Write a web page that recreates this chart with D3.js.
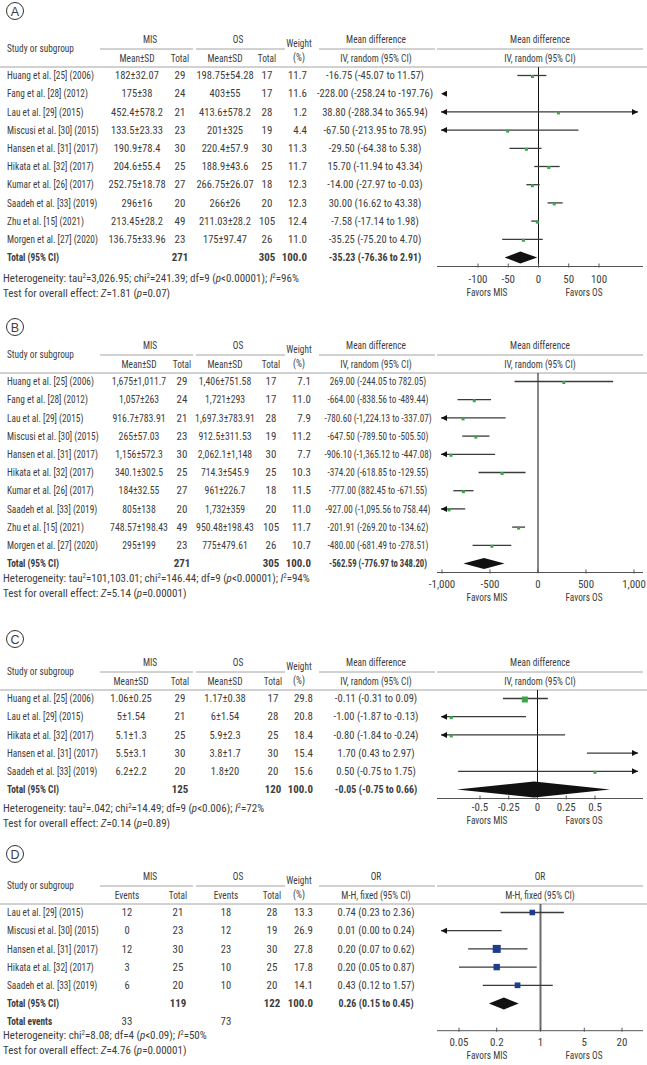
<!DOCTYPE html>
<html><head><meta charset="utf-8">
<script src="https://cdn.jsdelivr.net/npm/d3@7"></script>
<style>
body{margin:0;background:#fff;}
svg text{font-family:"Liberation Sans Narrow","Arial Narrow","Roboto Condensed",Roboto,"Liberation Sans",sans-serif;fill:#3d3d3d;}
</style></head><body>
<svg id="c" width="647" height="1065"></svg>
<script>
// ---------- Panel A : mean difference ----------
const studiesA = ["Huang et al. [25] (2006)","Fang et al. [28] (2012)","Lau et al. [29] (2015)","Miscusi et al. [30] (2015)","Hansen et al. [31] (2017)","Hikata et al. [32] (2017)","Kumar et al. [26] (2017)","Saadeh et al. [33] (2019)","Zhu et al. [15] (2021)","Morgen et al. [27] (2020)"];
const misSdA = ["182±32.07","175±38","452.4±578.2","133.5±23.33","190.9±78.4","204.6±55.4","252.75±18.78","296±16","213.45±28.2","136.75±33.96"];
const misNA = [29,24,21,23,30,25,27,20,49,23];
const osSdA = ["198.75±54.28","403±55","413.6±578.2","201±325","220.4±57.9","188.9±43.6","266.75±26.07","266±26","211.03±28.2","175±97.47"];
const osNA = [17,17,28,19,30,25,18,20,105,26];
const weightA = ["11.7","11.6","1.2","4.4","11.3","11.7","12.3","12.3","12.4","11.0"];
const effTextA = ["-16.75 (-45.07 to 11.57)","-228.00 (-258.24 to -197.76)","38.80 (-288.34 to 365.94)","-67.50 (-213.95 to 78.95)","-29.50 (-64.38 to 5.38)","15.70 (-11.94 to 43.34)","-14.00 (-27.97 to -0.03)","30.00 (16.62 to 43.38)","-7.58 (-17.14 to 1.98)","-35.25 (-75.20 to 4.70)"];
const totalsA = ["271","305","100.0","-35.23 (-76.36 to 2.91)"];
// plotted marks
const ptA = [-10,-228,33,-51,-20,17,-10,26,-2,-25];
const loA = [-35,-258.24,-288.34,-214,-48,-7,-20,15,-12,-60];
const hiA = [13,-197.76,365.94,66,5,35,2,40,1,7];
const diamondA = [-30,-56,-2];
const ticksA = [-100,-50,0,50,100];
const tickLabA = ["-100","-50","0","50","100"];
const hetA = "Heterogeneity: tau^2=3,026.95; chi^2=241.39; df=9 (*p*<0.00001); *I*^2=96%";
const testA = "Test for overall effect: *Z*=1.81 (*p*=0.07)";

// ---------- Panel B ----------
const misSdB = ["1,675±1,011.7","1,057±263","916.7±783.91","265±57.03","1,156±572.3","340.1±302.5","184±32.55","805±138","748.57±198.43","295±199"];
const osSdB = ["1,406±751.58","1,721±293","1,697.3±783.91","912.5±311.53","2,062.1±1,148","714.3±545.9","961±226.7","1,732±359","950.48±198.43","775±479.61"];
const weightB = ["7.1","11.0","7.9","11.2","7.7","10.3","11.5","11.0","11.7","10.7"];
const effTextB = ["269.00 (-244.05 to 782.05)","-664.00 (-838.56 to -489.44)","-780.60 (-1,224.13 to -337.07)","-647.50 (-789.50 to -505.50)","-906.10 (-1,365.12 to -447.08)","-374.20 (-618.85 to -129.55)","-777.00 (882.45 to -671.55)","-927.00 (-1,095.56 to 758.44)","-201.91 (-269.20 to -134.62)","-480.00 (-681.49 to -278.51)"];
const totalsB = ["271","305","100.0","-562.59 (-776.97 to 348.20)"];
const ptB = [269,-664,-780.6,-647.5,-906.1,-374.2,-777,-927,-201.91,-480];
const loB = [-244.05,-838.56,-1224.13,-789.5,-1365.12,-618.85,-882.45,-1095.56,-269.2,-681.49];
const hiB = [782.05,-489.44,-337.07,-505.5,-447.08,-129.55,-671.55,-758.44,-134.62,-278.51];
const diamondB = [-562.59,-776.97,-348.2];
const ticksB = [-1000,-500,0,500,1000];
const tickLabB = ["-1,000","-500","0","500","1,000"];
const hetB = "Heterogeneity: tau^2=101,103.01; chi^2=146.44; df=9 (*p*<0.00001); *I*^2=94%";
const testB = "Test for overall effect: *Z*=5.14 (*p*=0.00001)";

// ---------- Panel C ----------
const studiesC = ["Huang et al. [25] (2006)","Lau et al. [29] (2015)","Hikata et al. [32] (2017)","Hansen et al. [31] (2017)","Saadeh et al. [33] (2019)"];
const misSdC = ["1.06±0.25","5±1.54","5.1±1.3","5.5±3.1","6.2±2.2"];
const misNC = [29,21,25,30,20];
const osSdC = ["1.17±0.38","6±1.54","5.9±2.3","3.8±1.7","1.8±20"];
const osNC = [17,28,25,30,20];
const weightC = ["29.8","20.8","18.4","15.4","15.6"];
const effTextC = ["-0.11 (-0.31 to 0.09)","-1.00 (-1.87 to -0.13)","-0.80 (-1.84 to -0.24)","1.70 (0.43 to 2.97)","0.50 (-0.75 to 1.75)"];
const totalsC = ["125","120","100.0","-0.05 (-0.75 to 0.66)"];
const ptC = [-0.11,-0.75,-0.75,1.70,0.5];
const loC = [-0.30,-1.87,-1.84,0.43,-0.69];
const hiC = [0.09,-0.10,0.24,2.97,1.75];
const diamondC = [-0.03,-0.70,0.63];
const ticksC = [-0.5,-0.25,0,0.25,0.5];
const tickLabC = ["-0.5","-0.25","0","0.25","0.5"];
const hetC = "Heterogeneity: tau^2=.042; chi^2=14.49; df=9 (*p*<0.006); *I*^2=72%";
const testC = "Test for overall effect: *Z*=0.14 (*p*=0.89)";

// ---------- Panel D : odds ratio ----------
const studiesD = ["Lau et al. [29] (2015)","Miscusi et al. [30] (2015)","Hansen et al. [31] (2017)","Hikata et al. [32] (2017)","Saadeh et al. [33] (2019)"];
const misEvD = [12,0,12,3,6];
const misND = [21,23,30,25,20];
const osEvD = [18,12,23,10,10];
const osND = [28,19,30,25,20];
const weightD = ["13.3","26.9","27.8","17.8","14.1"];
const effTextD = ["0.74 (0.23 to 2.36)","0.01 (0.00 to 0.24)","0.20 (0.07 to 0.62)","0.20 (0.05 to 0.87)","0.43 (0.12 to 1.57)"];
const totalsD = ["119","122","100.0","0.26 (0.15 to 0.45)"];
const totalEventsD = ["33","73"];
const ptD = [0.74,0.01,0.20,0.20,0.43];
const loD = [0.23,0.001,0.07,0.05,0.12];
const hiD = [2.36,0.24,0.62,0.87,1.57];
const diamondD = [0.26,0.15,0.45];
const ticksD = [0.05,0.2,1,5,20];
const tickLabD = ["0.05","0.2","1","5","20"];
const hetD = "Heterogeneity: chi^2=8.08; df=4 (*p*<0.09); *I*^2=50%";
const testD = "Test for overall effect: *Z*=4.76 (*p*=0.00001)";

// ---------------- drawing ----------------
const svg = d3.select("#c");
const FS = 10.5;
const SX_WORD = 0.89, SX_NUM = 1.04;
const PX0 = 437, PX1 = 643, CLIP0 = 441, CLIP1 = 638;
const ROWH = 18.2;

function rich(sel, str) {
  const parts = str.split(/(\^2|\*[^*]+\*)/).filter(s => s.length);
  let sup = false;
  parts.forEach(p => {
    if (p === "^2") { sel.append("tspan").attr("dy", -3.5).attr("font-size", 7).text("2"); sup = true; }
    else {
      const t = sel.append("tspan");
      if (sup) { t.attr("dy", 3.5); sup = false; }
      if (p[0] === "*") t.attr("font-style", "italic").text(p.slice(1, -1));
      else t.text(p);
    }
  });
}

function panel(p) {
  const g = svg.append("g");
  const T = p.top;
  const txt = (x, y, s, anchor = "middle", bold = false, sx = SX_NUM) =>
    g.append("text").attr("transform", `translate(${x},${y}) scale(${sx},1)`)
     .attr("dy", "0.35em")
     .attr("text-anchor", anchor).attr("font-size", FS)
     .attr("font-weight", bold ? "bold" : null).text(s);
  // circled letter
  g.append("circle").attr("cx", 15).attr("cy", T + p.labelDy).attr("r", 8.5)
   .attr("fill", "none").attr("stroke", "#333").attr("stroke-width", 1);
  g.append("text").attr("x", 15).attr("y", T + p.labelDy).attr("dy", "0.36em")
   .attr("text-anchor", "middle").attr("font-size", 12.5)
   .style("font-family", "Liberation Sans, Arial, sans-serif").text(p.letter);
  // header
  const c = p.cols, W = SX_WORD;
  txt(7, T - 19, "Study or subgroup", "start", false, W);
  txt(150, T - 28, "MIS", "middle", false, W); txt(238, T - 28, "OS", "middle", false, W);
  txt(c[0], T - 9, p.sub, "middle", false, W); txt(c[1], T - 9, "Total", "middle", false, W);
  txt(c[2], T - 9, p.sub, "middle", false, W); txt(c[3], T - 9, "Total", "middle", false, W);
  txt(299, T - 24, "Weight", "middle", false, W); txt(299, T - 10, "(%)", "middle", false, W);
  txt(376, T - 28, p.effHead, "middle", false, W); txt(376, T - 9, p.effSub, "middle", false, W);
  txt(540, T - 28, p.effHead, "middle", false, W); txt(540, T - 9, p.effSub, "middle", false, W);
  const hl = (x1, x2, y) => g.append("line").attr("x1", x1).attr("x2", x2).attr("y1", y).attr("y2", y)
     .attr("stroke", "#9a9a9a").attr("stroke-width", 0.9);
  hl(100, 193, T - 18); hl(196, 285, T - 18); hl(319, 435, T - 18); hl(437, 643, T - 18);
  hl(0, 647, T);

  const rowY = i => T + 8.5 + ROWH * i;
  const n = p.studies.length;
  p.studies.forEach((s, i) => {
    const y = rowY(i);
    txt(7, y, s, "start", false, W);
    txt(c[0], y, p.mis1[i], "middle", false, p.colSx); txt(c[1], y, p.misN[i]);
    txt(c[2], y, p.os1[i], "middle", false, p.colSx); txt(c[3], y, p.osN[i]);
    txt(c[4], y, p.weight[i], "end");
    txt(p.effX, y, p.effText[i], "middle", false, p.effSx);
  });
  const yt = rowY(n);
  txt(7, yt, "Total (95% CI)", "start", true, W);
  txt(c[1], yt, p.totals[0], "middle", true);
  txt(c[3], yt, p.totals[1], "middle", true);
  txt(c[4], yt, p.totals[2], "end", true);
  txt(p.effX, yt, p.totals[3], "middle", true, p.effSx * 0.95);
  let last = n;
  if (p.totalEvents) {
    last = n + 1;
    const ye = rowY(n + 1);
    txt(7, ye, "Total events", "start", true, W);
    txt(c[0], ye, p.totalEvents[0]); txt(c[2], ye, p.totalEvents[1]);
  }
  const axisY = rowY(last) + 9;

  // scale
  const x = (p.log ? d3.scaleLog() : d3.scaleLinear())
      .domain([p.ticks[0], p.ticks[p.ticks.length - 1]]).range(p.tickPx);
  const zero = p.log ? x(1) : x(0);
  g.append("line").attr("x1", zero).attr("x2", zero).attr("y1", T).attr("y2", axisY)
   .attr("stroke", p.log ? "#6b6b6b" : "#111").attr("stroke-width", p.log ? 2 : 1);
  g.append("line").attr("x1", PX0).attr("x2", PX1).attr("y1", axisY).attr("y2", axisY)
   .attr("stroke", "#555").attr("stroke-width", 1);
  p.ticks.forEach((t, i) => {
    g.append("line").attr("x1", x(t)).attr("x2", x(t)).attr("y1", axisY - 3).attr("y2", axisY + 1)
     .attr("stroke", "#555");
    txt(x(t), axisY + p.tickDy, p.tickLab[i]);
  });
  txt(487, axisY + p.tickDy + 13, "Favors MIS", "middle", false, W);
  txt(584, axisY + p.tickDy + 13, "Favors OS", "middle", false, W);

  const arrow = (tipX, y, dir) => {
    g.append("path").attr("d", `M${tipX},${y} l${-dir * 6},-3 l0,6 z`).attr("fill", "#111");
  };
  const sizeFn = d3.scaleSqrt().domain([0, 27.8]).range([0, 8]);
  p.pt.forEach((v, i) => {
    const y = rowY(i);
    const lo = x(p.lo[i]);
    const hi = x(p.hi[i]);
    if (hi < CLIP0) { arrow(CLIP0, y, -1); return; }
    if (lo > CLIP1) { arrow(CLIP1, y, 1); return; }
    const a = Math.max(lo, CLIP0), b = Math.min(hi, CLIP1);
    g.append("line").attr("x1", a).attr("x2", b).attr("y1", y).attr("y2", y)
     .attr("stroke", "#3a3a3a").attr("stroke-width", 1.3);
    if (lo < CLIP0) arrow(CLIP0, y, -1);
    if (hi > CLIP1) arrow(CLIP1, y, 1);
    const px = x(v);
    if (px >= CLIP0 && px <= CLIP1) {
      let s;
      if (p.log) s = sizeFn(+p.weight[i]);
      else s = (+p.weight[i] > 25) ? 6 : 3;
      g.append("rect").attr("x", px - s / 2).attr("y", y - s / 2 + (p.log ? 0 : 1)).attr("width", s).attr("height", s)
       .attr("fill", p.log ? "#1f3c8f" : "#3aa64a");
    }
  });
  // diamond
  const [dm, dl, dh] = p.diamond, hh = p.diamondH;
  g.append("path").attr("d", `M${x(dl)},${yt} L${x(dm)},${yt - hh} L${x(dh)},${yt} L${x(dm)},${yt + hh} Z`)
   .attr("fill", "#111");
  // heterogeneity
  const t1 = g.append("text").attr("x", 3).attr("y", p.hetY).attr("dy", "0.35em").attr("font-size", 11);
  rich(t1, p.het);
  const t2 = g.append("text").attr("x", 3).attr("y", p.hetY + 15).attr("dy", "0.35em").attr("font-size", 11);
  rich(t2, p.test);
}

panel({letter: "A", top: 67, labelDy: -56, sub: "Mean±SD", effHead: "Mean difference", effSub: "IV, random (95% CI)",
  cols: [137, 180, 225, 267, 307], colSx: 1.0, effSx: 1.0, effX: 375,
  studies: studiesA, mis1: misSdA, misN: misNA, os1: osSdA, osN: osNA, weight: weightA, effText: effTextA, totals: totalsA,
  pt: ptA, lo: loA, hi: hiA, diamond: diamondA, diamondH: 6,
  ticks: ticksA, tickLab: tickLabA, tickPx: [478, 599], tickDy: 13, hetY: 278, het: hetA, test: testA});

panel({letter: "B", top: 373, labelDy: -46, sub: "Mean±SD", effHead: "Mean difference", effSub: "IV, random (95% CI)",
  cols: [139, 182, 225, 271, 311], colSx: 0.93, effSx: 0.87, effX: 378,
  studies: studiesA, mis1: misSdB, misN: misNA, os1: osSdB, osN: osNA, weight: weightB, effText: effTextB, totals: totalsB,
  pt: ptB, lo: loB, hi: hiB, diamond: diamondB, diamondH: 5.5,
  ticks: ticksB, tickLab: tickLabB, tickPx: [442, 634], tickDy: 12, hetY: 578, het: hetB, test: testB});

panel({letter: "C", top: 690, labelDy: -51, sub: "Mean±SD", effHead: "Mean difference", effSub: "IV, random (95% CI)",
  cols: [131, 180, 225, 273, 313], colSx: 1.0, effSx: 1.0, effX: 376,
  studies: studiesC, mis1: misSdC, misN: misNC, os1: osSdC, osN: osNC, weight: weightC, effText: effTextC, totals: totalsC,
  pt: ptC, lo: loC, hi: hiC, diamond: diamondC, diamondH: 8,
  ticks: ticksC, tickLab: tickLabC, tickPx: [480, 595], tickDy: 9, hetY: 808, het: hetC, test: testC});

panel({letter: "D", top: 904, labelDy: -50, sub: "Events", effHead: "OR", effSub: "M-H, fixed (95% CI)",
  cols: [127, 178, 226, 272, 313], colSx: 1.0, effSx: 1.0, effX: 376, log: true,
  studies: studiesD, mis1: misEvD, misN: misND, os1: osEvD, osN: osND, weight: weightD, effText: effTextD, totals: totalsD,
  totalEvents: totalEventsD,
  pt: ptD, lo: loD, hi: hiD, diamond: diamondD, diamondH: 6,
  ticks: ticksD, tickLab: tickLabD, tickPx: [459, 622], tickDy: 12, hetY: 1035, het: hetD, test: testD});
</script>
</body></html>
